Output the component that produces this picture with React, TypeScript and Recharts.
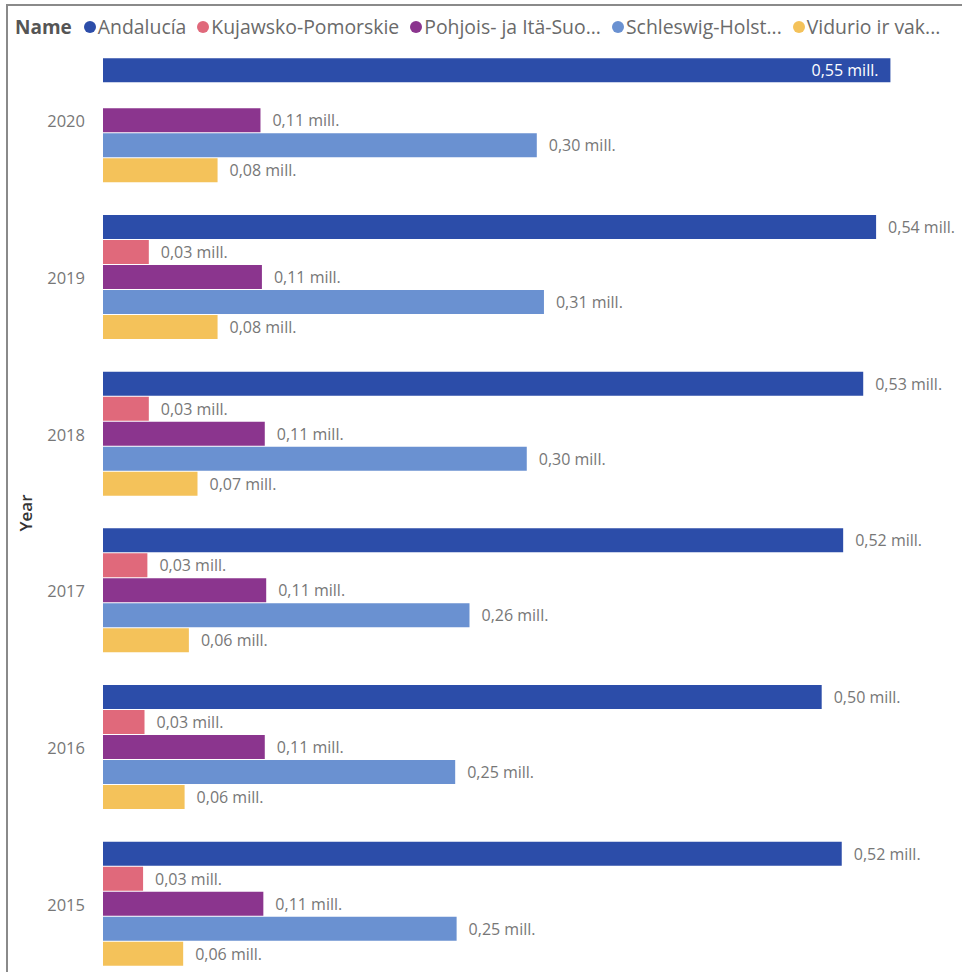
import React from "react";
import { Bar, BarChart, LabelList, Legend, XAxis, YAxis } from "recharts";

const YEARS = ["2020", "2019", "2018", "2017", "2016", "2015"];
const SERIES_NAMES = [
  "Andalucía",
  "Kujawsko-Pomorskie",
  "Pohjois- ja Itä-Suomi",
  "Schleswig-Holstein",
  "Vidurio ir vakarų Lietuvos regionas",
];
const LEGEND_LABELS = ["Andalucía", "Kujawsko-Pomorskie", "Pohjois- ja Itä-Suo...", "Schleswig-Holst...", "Vidurio ir vak..."];
const ANDALUCIA = [0.55, 0.54, 0.531, 0.517, 0.502, 0.516];
const KUJAWSKO = [null, 0.032, 0.032, 0.031, 0.029, 0.028];
const POHJOIS = [0.11, 0.111, 0.113, 0.114, 0.113, 0.112];
const SCHLESWIG = [0.303, 0.308, 0.296, 0.256, 0.246, 0.247];
const VIDURIO = [0.08, 0.08, 0.066, 0.06, 0.057, 0.056];

const COLORS = ["#2C4DA9", "#E0697B", "#8B358E", "#6A91D1", "#F4C25A"];
const KEYS = ["and", "kuj", "poh", "sch", "vid"];

const CHART_W = 962;
const FONT = "'Segoe UI', 'Open Sans', sans-serif";

const data = YEARS.map((year, i) => ({
  year,
  and: ANDALUCIA[i],
  kuj: KUJAWSKO[i],
  poh: POHJOIS[i],
  sch: SCHLESWIG[i],
  vid: VIDURIO[i],
}));

const fmt = (v: number) => v.toFixed(2).replace(".", ",") + " mill.";

const renderLabel = (props: any) => {
  const { x, y, width, height, value } = props;
  if (value == null) return null;
  const end = Number(x) + Number(width);
  // Power BI pushes the label inside when it would run off the visual
  const inside = end + 13 + 67 > CHART_W;
  return (
    <text
      x={inside ? end - 12 : end + 12}
      y={Number(y) + Number(height) / 2}
      textAnchor={inside ? "end" : "start"}
      dominantBaseline="central"
      fill={inside ? "#ffffff" : "#777777"}
      fontSize={16}
      fontFamily={FONT}
    >
      {fmt(value)}
    </text>
  );
};

const LegendContent = () => (
  <div style={{ display: "flex", alignItems: "center", fontFamily: FONT, fontSize: 19.4, whiteSpace: "nowrap" }}>
    <span style={{ fontWeight: 700, color: "#555", marginRight: 12, fontSize: 19 }}>Name</span>
    {LEGEND_LABELS.map((label, i) => (
      <span key={label} style={{ display: "flex", alignItems: "center", marginRight: 11, color: "#6a6a6a" }}>
        <span
          style={{
            width: 12,
            height: 12,
            borderRadius: 6,
            background: COLORS[i],
            display: "inline-block",
            marginRight: 2,
          }}
        />
        {label}
      </span>
    ))}
  </div>
);

const YearLabel = (props: any) => {
  const vb = props.viewBox || {};
  const cy = vb.y + vb.height / 2;
  return (
    <text
      x={25}
      y={cy}
      transform={`rotate(-90, 25, ${cy})`}
      textAnchor="middle"
      dominantBaseline="central"
      fontSize={17}
      fontWeight={600}
      fill="#333"
      fontFamily={FONT}
    >
      Year
    </text>
  );
};

export default function App() {
  return (
    <div
      style={{
        position: "absolute",
        left: 0,
        top: 0,
        width: 962,
        height: 972,
        overflow: "hidden",
        background: "#fff",
      }}
    >
      <div
        style={{
          position: "absolute",
          left: 6,
          top: 4,
          right: 0,
          bottom: 0,
          borderTop: "2px solid #8a8a8a",
          borderLeft: "2px solid #8a8a8a",
        }}
      />
      <BarChart
        width={CHART_W}
        height={990}
        data={data}
        layout="vertical"
        margin={{ top: 43, right: 0, bottom: 7, left: 0 }}
        barCategoryGap="9.8%"
        barGap={1}
      >
        <XAxis type="number" hide domain={[0, 0.6]} />
        <YAxis
          type="category"
          dataKey="year"
          width={103}
          axisLine={false}
          tickLine={false}
          tickMargin={12}
          tick={{ fill: "#777", fontSize: 16.5, fontFamily: FONT }}
          label={{ content: YearLabel }}
        />
        <Legend
          layout="horizontal"
          verticalAlign="middle"
          align="center"
          content={LegendContent}
          wrapperStyle={{ top: 13, left: 15, width: 945 }}
        />
        {KEYS.map((k, i) => (
          <Bar key={k} dataKey={k} name={SERIES_NAMES[i]} fill={COLORS[i]} isAnimationActive={false}>
            <LabelList dataKey={k} content={renderLabel} />
          </Bar>
        ))}
      </BarChart>
    </div>
  );
}
